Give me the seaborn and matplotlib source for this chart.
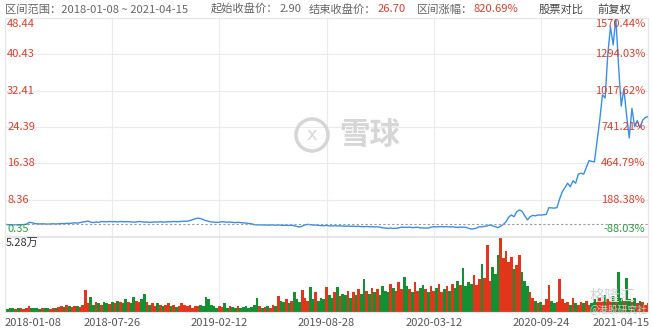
import matplotlib
matplotlib.use("Agg")
import matplotlib.pyplot as plt
import matplotlib.patches as mpatches
from matplotlib.transforms import IdentityTransform
import numpy as np
import pandas as pd
import seaborn as sns

# ---------------- data ----------------
date_labels = ["2018-01-08", "2018-07-26", "2019-02-12", "2019-08-28",
               "2020-03-12", "2020-09-24", "2021-04-15"]
price_ticks = [0.35, 8.36, 16.38, 24.39, 32.41, 40.43, 48.44]
price_tick_labels = ["0.35", "8.36", "16.38", "24.39", "32.41", "40.43", "48.44"]
pct_tick_labels = ["-88.03%", "188.38%", "464.79%", "741.21%", "1017.62%",
                   "1294.03%", "1570.44%"]
start_price = 2.90
vol_max = 52.8  # thousand -> 5.28万

price = [
    2.90, 2.85, 2.82, 2.80, 2.85, 2.78, 2.82, 2.88, 2.95, 3.35,
    3.30, 3.10, 3.05, 3.00, 3.05, 3.00, 2.98, 3.02, 3.05, 3.00,
    3.05, 3.10, 3.08, 3.15, 3.12, 3.20, 3.25, 3.20, 3.30, 3.45,
    3.50, 3.65, 3.40, 3.30, 3.45, 3.35, 3.55, 3.50, 3.48, 3.55,
    3.50, 3.52, 3.45, 3.55, 3.50, 3.48, 3.52, 3.45, 3.40, 3.45,
    3.55, 3.50, 3.40, 3.45, 3.35, 3.40, 3.45, 3.42, 3.50, 3.40,
    3.45, 3.50, 3.48, 3.55, 3.50, 3.52, 3.58, 3.60, 3.62, 3.75,
    3.95, 4.15, 4.28, 4.20, 3.95, 3.75, 3.60, 3.45, 3.40, 3.35,
    3.40, 3.50, 3.45, 3.40, 3.42, 3.35, 3.30, 3.38, 3.30, 3.25,
    3.20, 3.10, 3.05, 2.85, 2.80, 2.82, 2.78, 2.80, 2.75, 2.78,
    2.80, 2.72, 2.78, 2.75, 2.70, 2.72, 2.68, 2.72, 2.60, 2.45,
    2.35, 2.55, 2.80, 2.90, 2.85, 2.75, 2.78, 2.70, 2.65, 2.62,
    2.70, 2.60, 2.58, 2.62, 2.55, 2.60, 2.55, 2.50, 2.55, 2.48,
    2.52, 2.45, 2.50, 2.42, 2.40, 2.45, 2.38, 2.40, 2.35, 2.38,
    2.30, 2.15, 2.10, 2.05, 2.10, 2.02, 2.05, 2.15, 2.30, 2.28,
    2.25, 2.30, 2.20, 2.25, 2.28, 2.15, 2.10, 2.12, 2.10, 2.30,
    2.40, 2.35, 2.40, 2.42, 2.38, 2.40, 2.35, 2.38, 2.30, 2.25,
    2.32, 2.30, 2.25, 2.05, 1.90, 1.95, 2.10, 2.40, 2.35, 2.50,
    2.55, 2.80, 2.60, 2.40, 2.20, 2.50, 2.90, 3.50, 4.50, 5.00,
    4.60, 5.70, 6.10, 5.80, 4.80, 3.90, 4.60, 4.90, 4.80, 5.00,
    4.95, 5.05, 5.10, 6.60, 6.55, 6.50, 6.60, 8.50, 10.1, 11.0,
    12.0, 11.2, 12.5, 12.0, 14.0, 14.2, 14.0, 15.5, 17.0, 16.8,
    16.7, 21.4, 26.0, 31.5, 30.8, 40.5, 46.5, 42.5, 48.4, 38.0,
    29.0, 32.8, 27.0, 22.0, 28.5, 24.5, 25.8, 24.2, 25.9, 26.5,
    26.70,
]

volume = [  # thousands of shares
    2.5, 2, 2.5, 3, 2, 2.5, 3, 2, 3, 4.4,
    3, 2.5, 3, 2, 3, 2.5, 3, 2, 2.5, 3, 3.5,
    4, 3.5, 5, 4, 3.5, 4, 4.5, 3.5, 5,
    15.5,
    6, 10.8, 5, 7, 6, 5, 7, 6, 5.5,
    7, 6, 8, 7, 6.5, 9, 7, 6, 10.8, 8, 7, 9, 12.5, 7,
    5, 6, 4, 6.5, 5, 4, 5, 6, 4, 5, 3.5, 4, 6, 5, 4, 5, 3, 4, 4.5, 5,
    4, 10.8, 9, 5, 4, 3, 4,
    3.5, 6, 3, 4, 3.5, 3, 4, 3, 3.5, 4, 3, 3.5, 5, 10, 4, 3, 3.5, 4, 3, 5, 4,
    11.5, 8, 7, 9, 6, 8, 13.9, 9, 7, 15.5, 10, 8, 17.8, 9, 14, 8, 10, 9,
    17.8, 12, 10, 14, 17.8, 11, 13, 12, 15, 10, 14, 12, 16, 13, 23,
    15, 13, 17, 14, 16, 12, 18, 15, 14, 20, 17, 15, 21, 16, 24.9, 18, 16, 14,
    21, 15, 17, 19, 16, 14, 18, 15, 17,
    19.5, 14, 16,
    18, 15, 20, 17, 22, 19, 30.7, 18, 21, 20, 26, 19, 23, 34, 24, 47, 22, 32, 27,
    40, 52.8, 38, 43, 35, 39, 30, 33, 40, 28,
    22, 18, 14, 10, 8, 6, 7, 5, 9, 19,
    8, 6, 7, 23, 9, 6, 7, 5, 10, 6,
    5, 7, 6, 8, 5, 6, 9, 7, 10, 8,
    12, 9, 8, 11, 7, 28, 10, 8, 24, 9,
    7, 10, 6, 8, 7, 5, 6,
]

n = min(len(price), len(volume))
price = price[:n]
volume = volume[:n]
idx = np.arange(n)
df = pd.DataFrame({"i": idx, "price": price, "volume": volume})
up = np.r_[True, np.diff(df["price"].values) >= 0]

RED = "#e2361a"
GREEN = "#149032"
LBL_RED = "#d5402f"
LBL_GREEN = "#2f9a45"

# ---------------- figure ----------------
sns.set_style("white")
plt.rcParams["font.family"] = ["Noto Sans CJK SC", "DejaVu Sans"]

W, H = 652, 331
fig = plt.figure(figsize=(W / 100, H / 100), dpi=100)


def fx(x):
    return x / W


def fy(y):
    return 1 - y / H


ax = fig.add_axes([fx(5), fy(236), 643 / W, 218 / H])
axv = fig.add_axes([fx(5), fy(312), 643 / W, 75 / H])

tick_pos = np.linspace(0, n - 1, len(date_labels))

# price panel
sns.lineplot(data=df, x="i", y="price", ax=ax, color="#3a8ee6", linewidth=1.0)
ax.set_xlim(0, n - 1)
ax.set_ylim(price_ticks[0], price_ticks[-1])
ax.set_yticks(price_ticks)
ax.set_xticks(tick_pos)
ax.grid(True, color="#ebebeb", linewidth=0.8)
ax.tick_params(length=0, labelleft=False, labelbottom=False)
ax.set_xlabel("")
ax.set_ylabel("")
for s in ax.spines.values():
    s.set_color("#e6e6e6")
    s.set_linewidth(0.8)
ax.axhline(start_price, color="#9a9a9a", linestyle=(0, (2, 2)), linewidth=0.8)

n_t = len(price_ticks)
for k, (v, lab, pl) in enumerate(zip(price_ticks, price_tick_labels, pct_tick_labels)):
    if k == n_t - 1:
        dy = -6.5
    elif k == 0:
        dy = 2.9
    else:
        dy = -2.2
    col = LBL_GREEN if k == 0 else LBL_RED
    ax.annotate(lab, xy=(0, v), xycoords=("axes fraction", "data"),
                xytext=(1.5, dy), textcoords="offset points",
                ha="left", va="baseline", fontsize=8, color=col)
    ax.annotate(pl, xy=(1, v), xycoords=("axes fraction", "data"),
                xytext=(-2, dy), textcoords="offset points",
                ha="right", va="baseline", fontsize=8, color=col)

# volume panel
axv.bar(df["i"], df["volume"], width=1.0, color=np.where(up, RED, GREEN),
        linewidth=0)
axv.set_xlim(0, n - 1)
axv.set_ylim(0, vol_max)
axv.set_xticks(tick_pos)
axv.set_yticks([])
axv.grid(True, axis="x", color="#ebebeb", linewidth=0.8)
axv.set_axisbelow(True)
axv.tick_params(length=0, labelleft=False, labelbottom=False)
for s in axv.spines.values():
    s.set_color("#e6e6e6")
    s.set_linewidth(0.8)
fig.text(fx(6), fy(245.5), "5.28万", fontsize=8, color="#333333",
         va="baseline", ha="left")

# date labels
for k, (p, lab) in enumerate(zip(tick_pos, date_labels)):
    xp = 5 + p / (n - 1) * 643
    if k == 0:
        ha, xp = "left", 5
    elif k == len(date_labels) - 1:
        ha, xp = "right", 650
    else:
        ha = "center"
    fig.text(fx(xp), fy(326), lab, fontsize=8, color="#555555",
             ha=ha, va="baseline")

# header
hdr = "#666666"
hs = 8.1
fig.text(fx(5), fy(12.5), "区间范围：2018-01-08 ~ 2021-04-15", fontsize=hs,
         color=hdr, va="baseline")
fig.text(fx(211), fy(12.5), "起始收盘价：", fontsize=hs, color=hdr,
         va="baseline")
fig.text(fx(280), fy(12.5), "2.90", fontsize=hs, color=hdr,
         va="baseline")
fig.text(fx(309), fy(12.5), "结束收盘价：", fontsize=hs, color=hdr,
         va="baseline")
fig.text(fx(378), fy(12.5), "26.70", fontsize=hs, color=LBL_RED,
         va="baseline")
fig.text(fx(417), fy(12.5), "区间涨幅：", fontsize=hs, color=hdr,
         va="baseline")
fig.text(fx(474), fy(12.5), "820.69%", fontsize=hs, color=LBL_RED,
         va="baseline")
fig.text(fx(539), fy(12.5), "股票对比", fontsize=hs, color="#444444",
         va="baseline")
fig.text(fx(597), fy(12.5), "前复权", fontsize=hs, color="#444444",
         va="baseline")

# watermarks
circ = mpatches.Circle((312, H - 135), radius=16, transform=IdentityTransform(),
                       fill=False, edgecolor="#d6d6d6", linewidth=2.5)
fig.add_artist(circ)
fig.text(fx(312), fy(135), "ⅹ", fontsize=13, color="#d6d6d6", ha="center",
         va="center", family=["DejaVu Sans"])
fig.text(fx(370), fy(135), "雪球", fontsize=22, color="#d6d6d6", ha="center",
         va="center", fontweight="bold")
fig.text(fx(612), fy(296), "格隆汇", fontsize=11, color="#d2d2d2", ha="center",
         va="center", fontstyle="italic")
fig.text(fx(618), fy(310), "@港股研究社", fontsize=7, color="#d0d0d0",
         ha="center", va="center")

fig.savefig("out.png", dpi=100)
